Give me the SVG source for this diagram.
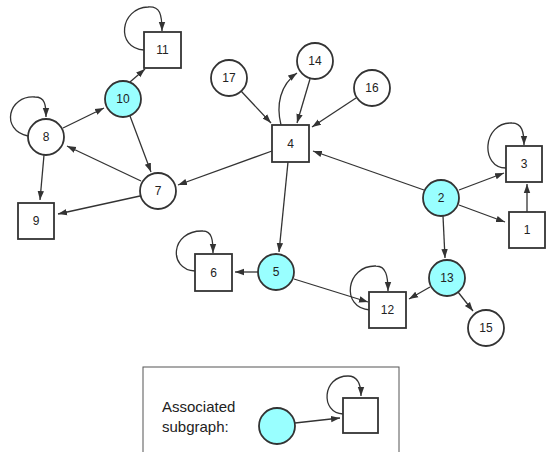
<svg xmlns="http://www.w3.org/2000/svg" width="546" height="452" viewBox="0 0 546 452">
<defs>
<marker id="ah" markerUnits="userSpaceOnUse" markerWidth="10" markerHeight="8" refX="9" refY="4" orient="auto">
<path d="M0,0.8 L9,4 L0,7.2 Z" fill="#333"/>
</marker>
<style>
.n{fill:#fff;stroke:#333;stroke-width:1.8}
.c{fill:#99ffff;stroke:#333;stroke-width:1.8}
.t{font-family:"Liberation Sans",Arial,sans-serif;font-size:12px;fill:#222;text-anchor:middle;dominant-baseline:central}
.e{fill:none;stroke:#333;stroke-width:1.3;marker-end:url(#ah)}
.lg{font-family:"Liberation Sans",Arial,sans-serif;font-size:15px;fill:#222}
</style>
</defs>
<rect width="546" height="452" fill="#fff"/>
<g id="connectors">
<path class="e" d="M241,91 L271,123"/>
<path class="e" d="M310,79 L297,123"/>
<path class="e" d="M281,125 C276,105 280,85 297,73"/>
<path class="e" d="M356,98 L312,127"/>
<path class="e" d="M424,190 L313,151"/>
<path class="e" d="M272,151 L178,185"/>
<path class="e" d="M288,162 L279,252"/>
<path class="e" d="M459,190 L504,173"/>
<path class="e" d="M459,205 L505,222"/>
<path class="e" d="M527,212 L527,184"/>
<path class="e" d="M443,216 L445,258"/>
<path class="e" d="M430,287 L409,299"/>
<path class="e" d="M458,292 L473,311"/>
<path class="e" d="M258,272 L235,272"/>
<path class="e" d="M294,279 L368,302"/>
<path class="e" d="M130,82 L145,69"/>
<path class="e" d="M63,128 L104,108"/>
<path class="e" d="M130,116 L151,172"/>
<path class="e" d="M141,181 L67,146"/>
<path class="e" d="M140,196 L58,214"/>
<path class="e" d="M44,155 L40,200"/>
<path class="e" d="M144,50 C115,48 120,8 148,7 C160,6 162,14 162,31"/>
<path class="e" d="M28,136 C0,130 8,95 35,97 C45,97 46,105 46,117"/>
<path class="e" d="M506,168 C480,168 482,122 512,123 C522,123 524,132 524,145"/>
<path class="e" d="M195,271 C168,270 170,230 203,231 C212,231 213,240 213,253"/>
<path class="e" d="M370,310 C340,308 346,265 376,266 C386,266 388,276 388,291"/>
</g>
<g id="n1"><rect class="n" x="509" y="212" width="36" height="36"/><text class="t" x="527" y="230">1</text></g>
<g id="n2"><circle class="c" cx="441" cy="198" r="18"/><text class="t" x="441" y="198">2</text></g>
<g id="n3"><rect class="n" x="506" y="146" width="36" height="36"/><text class="t" x="524" y="164">3</text></g>
<g id="n4"><rect class="n" x="272" y="125" width="37" height="37"/><text class="t" x="290.5" y="143.5">4</text></g>
<g id="n5"><circle class="c" cx="276" cy="272" r="18"/><text class="t" x="276" y="272">5</text></g>
<g id="n6"><rect class="n" x="195" y="254" width="37" height="37"/><text class="t" x="213.5" y="272.5">6</text></g>
<g id="n7"><circle class="n" cx="158" cy="191" r="18"/><text class="t" x="158" y="191">7</text></g>
<g id="n8"><circle class="n" cx="46" cy="137" r="18"/><text class="t" x="46" y="137">8</text></g>
<g id="n9"><rect class="n" x="18" y="203" width="36" height="36"/><text class="t" x="36" y="221">9</text></g>
<g id="n10"><circle class="c" cx="123" cy="99" r="18"/><text class="t" x="123" y="99">10</text></g>
<g id="n11"><rect class="n" x="144" y="32" width="37" height="36"/><text class="t" x="162.5" y="50">11</text></g>
<g id="n12"><rect class="n" x="369" y="292" width="37" height="36"/><text class="t" x="387.5" y="310">12</text></g>
<g id="n13"><circle class="c" cx="447" cy="278" r="18"/><text class="t" x="447" y="278">13</text></g>
<g id="n14"><circle class="n" cx="315" cy="61" r="18"/><text class="t" x="315" y="61">14</text></g>
<g id="n15"><circle class="n" cx="486" cy="328" r="18"/><text class="t" x="486" y="328">15</text></g>
<g id="n16"><circle class="n" cx="372" cy="88" r="18"/><text class="t" x="372" y="88">16</text></g>
<g id="n17"><circle class="n" cx="229" cy="78" r="18"/><text class="t" x="229" y="78">17</text></g>
<g id="legend">
<rect x="143" y="367" width="256" height="100" fill="#fff" stroke="#555" stroke-width="1"/>
<text class="lg" x="162" y="412">Associated</text>
<text class="lg" x="162" y="432">subgraph:</text>
<path class="e" d="M295,423 L340,418"/>
<path class="e" d="M343,414 C320,413 322,376 348,376 C358,376 361,385 361,396"/>
<circle class="c" cx="277" cy="426" r="18"/>
<rect class="n" x="343" y="398" width="35" height="35"/>
</g>
</svg>
